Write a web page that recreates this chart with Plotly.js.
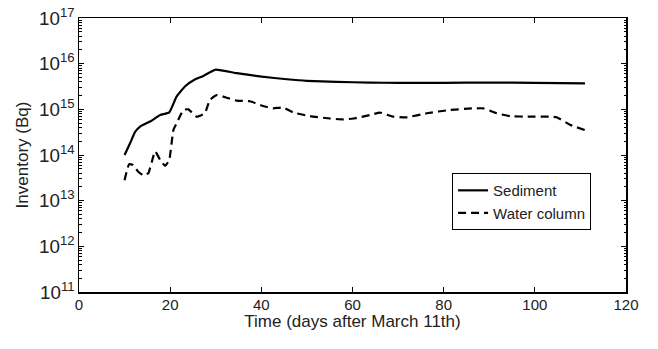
<!DOCTYPE html>
<html>
<head>
<meta charset="utf-8">
<script src="https://cdn.plot.ly/plotly-3.0.1.min.js"></script>
<style>html,body{margin:0;padding:0;background:#fff;}#chart{width:658px;height:349px;}</style>
</head>
<body>
<div id="chart"></div>
<script>
// Sediment inventory (Bq)
const sedimentDays = [10, 11.2, 12.3, 13.4, 15.6, 17.8, 19.8, 21.4, 23.3, 25.4, 27.3, 30, 34.6, 40.1, 45.6, 50, 56.5, 63.8, 70, 80, 90, 100, 111];
const sedimentBq   = [1e14, 1.8e14, 3.2e14, 4.2e14, 5.4e14, 7.5e14, 8.6e14, 1.9e15, 3.2e15, 4.5e15, 5.4e15, 7.4e15, 6.2e15, 5.2e15, 4.55e15, 4.2e15, 4.0e15, 3.85e15, 3.8e15, 3.8e15, 3.85e15, 3.8e15, 3.7e15];
// Water column inventory (Bq)
const waterDays = [10, 11, 11.9, 13, 14.1, 15.2, 16.7, 17.8, 18.9, 19.8, 20.7, 21.4, 22.9, 24, 25.8, 27.6, 28.7, 30.2, 32.4, 34.6, 37.5, 40.4, 42.6, 44.8, 47, 50.7, 55.1, 58, 60.2, 63.8, 66, 69, 71.9, 76.3, 81.4, 86.5, 88.7, 91.6, 94.6, 98.9, 103.3, 104.8, 107.7, 111];
const waterBq   = [2.8e13, 6.3e13, 6e13, 4.3e13, 3.6e13, 4e13, 1.2e14, 7.8e13, 5.8e13, 7.8e13, 3.5e14, 4.9e14, 9.7e14, 1e15, 6.9e14, 8.2e14, 1.6e15, 2.05e15, 1.8e15, 1.55e15, 1.5e15, 1.18e15, 1.05e15, 1.1e15, 8.5e14, 7.1e14, 6.3e14, 6e14, 6.3e14, 7.5e14, 8.5e14, 6.9e14, 6.7e14, 8.2e14, 9.7e14, 1.05e15, 1.05e15, 8.2e14, 7.1e14, 6.9e14, 6.9e14, 6.7e14, 4.6e14, 3.5e14];
const seriesNames = ["Sediment", "Water column"];
const xTicks = [0, 20, 40, 60, 80, 100, 120];

const font = "Liberation Sans, Arial, Helvetica, sans-serif";
const traces = [
  {x: sedimentDays, y: sedimentBq, name: seriesNames[0], mode: "lines",
   line: {color: "#000", width: 2.2, shape: "spline", smoothing: 0.4}},
  {x: waterDays, y: waterBq, name: seriesNames[1], mode: "lines",
   line: {color: "#000", width: 2.2, dash: "8px,5px", shape: "spline", smoothing: 0.4}}
];
const layout = {
  width: 658, height: 349,
  margin: {l: 79, r: 32, t: 18, b: 57},
  paper_bgcolor: "#fff", plot_bgcolor: "#fff",
  font: {family: font, color: "#222", size: 15},
  showlegend: true,
  legend: {x: 0.682, y: 0.434, xanchor: "left", yanchor: "top",
    bordercolor: "#000", borderwidth: 1, bgcolor: "#fff",
    font: {family: font, size: 15, color: "#222"}, itemwidth: 30,
    tracegroupgap: 0},
  xaxis: {
    range: [0, 120], tickvals: xTicks, ticktext: xTicks.map(String),
    showline: true, linecolor: "#000", linewidth: 1.5, mirror: "ticks",
    ticks: "inside", ticklen: 5, tickcolor: "#000", showgrid: false, zeroline: false,
    ticklabelstandoff: -2,
    tickfont: {family: font, size: 15, color: "#222"},
    title: {text: "Time (days after March 11th)", font: {family: font, size: 17, color: "#222"}, standoff: 3}
  },
  yaxis: {
    type: "log", range: [11, 17], dtick: 1, exponentformat: "power",
    showline: true, linecolor: "#000", linewidth: 1.5, mirror: "ticks",
    ticks: "inside", ticklen: 5, tickcolor: "#000", showgrid: false, zeroline: false,
    minor: {ticks: "inside", ticklen: 2.5, tickcolor: "#000", dtick: "D1", showgrid: false},
    tickfont: {family: font, size: 15, color: "#222"},
    title: {text: "Inventory (Bq)", font: {family: font, size: 17, color: "#222"}, standoff: 6}
  }
};
Plotly.newPlot("chart", traces, layout, {displayModeBar: false, staticPlot: true});
</script>
</body>
</html>
